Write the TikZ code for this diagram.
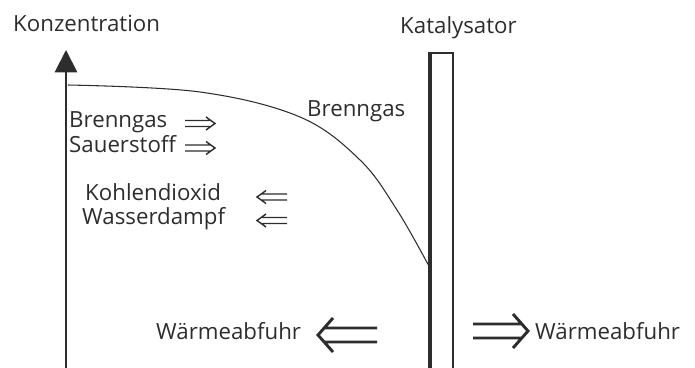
\documentclass[tikz,border=0pt]{standalone}
\usepackage{fontspec}
\setmainfont{Open Sans}
\usetikzlibrary{positioning, arrows.meta}
\definecolor{inkgray}{RGB}{45, 45, 45}

\begin{document}
\begin{tikzpicture}[x=0.03cm, y=-0.03cm,
        lbl/.style={font=\fontsize{19}{22}\selectfont, text=inkgray,
            inner sep=0pt, anchor=base west},
        thinline/.style={draw=inkgray, line width=0.9pt},
        axisline/.style={draw=inkgray, line width=1.7pt,
            -{Triangle[length=19pt, width=19pt]}},
        smallimp/.style={draw=inkgray, line width=1.2pt},
        bigimp/.style={draw=inkgray, line width=2.5pt}
    ]

    \useasboundingbox (0,0) rectangle (695,368);

    % axis
    \coordinate (axisfoot) at (66,368);
    \coordinate (axistop) at (66,50);
    \draw[axisline] (axisfoot) -- (axistop);
    \node[lbl] (konz) at (13,32) {Konzentration};

    % catalyst wall
    \draw[thinline] (430,368) -- (430,53) -- (453,53) -- (453,368);
    \draw[draw=inkgray, line width=2.6pt] (430,368) -- (430,52);
    \node[lbl] (kat) at (400,34) {Katalysator};

    % concentration profile
    \draw[thinline] plot[smooth, tension=0.6] coordinates
        {(68,85) (200,92) (300,117) (360,160) (397,210) (430,268)};
    \node[lbl] (brennkurve) at (307,117) {Brenngas};

    % species
    \node[lbl] (brenn) at (69,128) {Brenngas};
    \node[lbl] (sauer) at (69,153) {Sauerstoff};
    \node[lbl] (kohlen) at (85,200) {Kohlendioxid};
    \node[lbl] (wasser) at (82,224) {Wasserdampf};

    \draw[smallimp] (185,120.5) -- (211,120.5) (185,126.5) -- (211,126.5)
        (206,117) -- (215,123.5) -- (206,130);
    \draw[smallimp] (185,145) -- (211,145) (185,151) -- (211,151)
        (206,141.5) -- (215,148) -- (206,154.5);
    \draw[smallimp] (261,194) -- (287,194) (261,200) -- (287,200)
        (266,190.5) -- (257,197) -- (266,203.5);
    \draw[smallimp] (261,217.5) -- (287,217.5) (261,223.5) -- (287,223.5)
        (266,214) -- (257,220.5) -- (266,227);

    % heat removal
    \node[lbl] (waermeL) at (156,339) {Wärmeabfuhr};
    \node[lbl] (waermeR) at (535,339) {Wärmeabfuhr};

    \draw[bigimp] (324,328) -- (377,328) (324,342) -- (377,342)
        (333,318) -- (318,335) -- (333,352);
    \draw[bigimp] (473,324) -- (522,324) (473,338) -- (522,338)
        (513,314) -- (528,331) -- (513,348);

\end{tikzpicture}
\end{document}
